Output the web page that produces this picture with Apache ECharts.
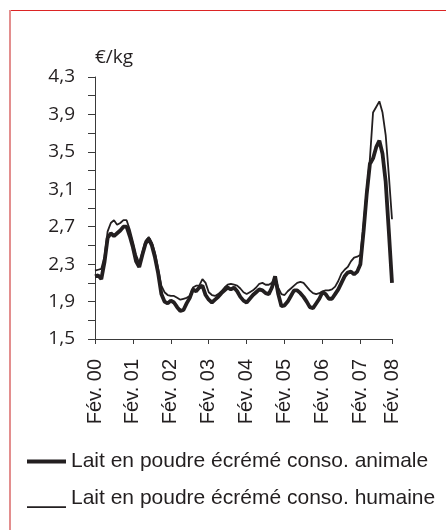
<!DOCTYPE html>
<html>
<head>
<meta charset="utf-8">
<script src="https://cdn.jsdelivr.net/npm/echarts@6/dist/echarts.min.js"></script>
<style>
  html, body { margin: 0; padding: 0; background: #ffffff; }
  #chart { width: 446px; height: 530px; }
</style>
</head>
<body>
<div id="chart"></div>
<script>
// Monthly prices (€/kg), Feb 2000 – Dec 2007
const tickLabels = ['Fév. 00', 'Fév. 01', 'Fév. 02', 'Fév. 03', 'Fév. 04', 'Fév. 05', 'Fév. 06', 'Fév. 07', 'Fév. 08'];
const seriesNames = ['Lait en poudre écrémé conso. animale', 'Lait en poudre écrémé conso. humaine'];

const animale = [
  2.17, 2.18, 2.14, 2.32, 2.58, 2.63, 2.60, 2.63, 2.66, 2.70, 2.70, 2.60,
  2.48, 2.33, 2.27, 2.40, 2.52, 2.57, 2.50, 2.37, 2.20, 1.98, 1.90, 1.88,
  1.91, 1.89, 1.84, 1.80, 1.81, 1.88, 1.94, 2.03, 2.01, 2.05, 2.07, 1.97,
  1.92, 1.89, 1.92, 1.95, 1.99, 2.02, 2.05, 2.03, 2.05, 2.01, 1.95, 1.91,
  1.89, 1.93, 1.97, 2.00, 2.03, 2.02, 1.99, 1.98, 2.05, 2.17, 1.98, 1.85,
  1.86, 1.90, 1.96, 2.02, 2.02, 1.99, 1.95, 1.90, 1.84, 1.83, 1.88, 1.93,
  2.00, 1.98, 1.93, 1.93, 1.98, 2.03, 2.10, 2.17, 2.21, 2.22, 2.19, 2.22,
  2.30, 2.65, 3.05, 3.37, 3.43, 3.55, 3.62, 3.48, 3.18, 2.65, 2.10
];
const humaine = [
  2.23, 2.24, 2.25, 2.38, 2.65, 2.74, 2.77, 2.72, 2.74, 2.77, 2.77, 2.67,
  2.54, 2.40, 2.31, 2.43, 2.55, 2.59, 2.53, 2.42, 2.25, 2.07, 2.00, 1.97,
  1.96, 1.96, 1.94, 1.92, 1.93, 1.94, 1.96, 2.05, 2.07, 2.07, 2.14, 2.10,
  2.00, 1.97, 1.96, 1.98, 2.01, 2.05, 2.08, 2.09, 2.08, 2.07, 2.04, 2.00,
  1.98, 2.00, 2.02, 2.05, 2.09, 2.10, 2.08, 2.08, 2.10, 2.16, 2.05, 1.98,
  1.97, 2.01, 2.04, 2.07, 2.10, 2.11, 2.10, 2.06, 2.02, 1.99, 1.98, 1.99,
  2.01, 2.02, 2.02, 2.03, 2.06, 2.12, 2.20, 2.24, 2.27, 2.33, 2.37, 2.38,
  2.40, 2.72, 3.10, 3.42, 3.92, 3.98, 4.04, 3.92, 3.68, 3.25, 2.78
];

// month categories (Feb 2000 onward), one per value
const monthNames = ['Jan', 'Fév', 'Mar', 'Avr', 'Mai', 'Juin', 'Juil', 'Août', 'Sep', 'Oct', 'Nov', 'Déc'];
const months = [];
for (let k = 0; k < animale.length; k++) {
  const m = (1 + k) % 12;
  const y = 2000 + Math.floor((1 + k) / 12);
  months.push(monthNames[m] + ' ' + y);
}
const lastIdx = months.length - 1;

const ink = '#231f20';
const axisGrey = '#3a3a3a';
const isTick = (idx) => idx % 12 === 0 || idx === lastIdx;

const chart = echarts.init(document.getElementById('chart'), null, { renderer: 'canvas' });
chart.setOption({
  animation: false,
  backgroundColor: '#ffffff',
  graphic: [
    { type: 'rect', shape: { x: 10, y: 10, width: 436, height: 1 }, style: { fill: '#dc2424' }, silent: true },
    { type: 'rect', shape: { x: 9, y: 10, width: 2, height: 520 }, style: { fill: '#e38e8e' }, silent: true }
  ],
  grid: { left: 95, top: 77, width: 297, height: 262, containLabel: false, outerBoundsMode: 'none' },
  xAxis: {
    type: 'category',
    data: months,
    boundaryGap: false,
    axisLine: { show: true, lineStyle: { color: axisGrey, width: 1 } },
    axisTick: { show: true, interval: (idx) => isTick(idx), length: 5, lineStyle: { color: axisGrey } },
    axisLabel: {
      interval: (idx) => isTick(idx),
      rotate: 90,
      margin: 20,
      fontFamily: 'Liberation Sans',
      fontSize: 20,
      color: ink,
      formatter: (v, idx) => idx === lastIdx ? tickLabels[tickLabels.length - 1] : (idx % 12 === 0 ? tickLabels[idx / 12] : '')
    },
    splitLine: { show: false }
  },
  yAxis: {
    type: 'value',
    min: 1.5,
    max: 4.3,
    interval: 0.2,
    name: '€/kg',
    nameLocation: 'end',
    nameGap: 10,
    nameTextStyle: { align: 'left', fontFamily: 'Open Sans', fontSize: 19, color: ink },
    axisLine: { show: true, lineStyle: { color: axisGrey, width: 1 } },
    axisTick: { show: true, length: 7, lineStyle: { color: axisGrey } },
    axisLabel: {
      margin: 20,
      fontFamily: 'Open Sans',
      fontSize: 19,
      color: ink,
      formatter: (v) => {
        const k = Math.round((v - 1.5) / 0.2);
        return k % 2 === 0 ? v.toFixed(1).replace('.', ',') : '';
      }
    },
    splitLine: { show: false }
  },
  legend: [
    {
      data: [seriesNames[0]],
      left: 27, top: 451,
      padding: 0,
      icon: 'rect',
      itemWidth: 39, itemHeight: 4,
      textStyle: { fontFamily: 'Liberation Sans', fontSize: 21, color: ink },
      selectedMode: false
    },
    {
      data: [seriesNames[1]],
      left: 27, top: 488,
      padding: 0,
      icon: 'path://M0,0 L0.01,0 L0,0.01 Z M0,17.3 L39,17.3 L39,19 L0,19 Z',
      itemWidth: 39, itemHeight: 19,
      textStyle: { fontFamily: 'Liberation Sans', fontSize: 21, color: ink },
      selectedMode: false
    }
  ],
  series: [
    {
      name: seriesNames[0], type: 'line', data: animale, symbol: 'none',
      lineStyle: { color: ink, width: 3.8 }, itemStyle: { color: ink }, z: 2
    },
    {
      name: seriesNames[1], type: 'line', data: humaine, symbol: 'none',
      lineStyle: { color: ink, width: 1.8 }, itemStyle: { color: ink }, z: 3
    }
  ]
});
</script>
</body>
</html>
